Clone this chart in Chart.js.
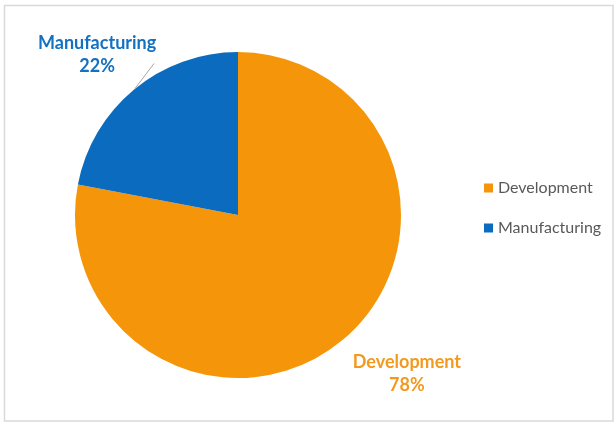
<!DOCTYPE html>
<html>
<head>
<meta charset="utf-8">
<script src="https://cdn.jsdelivr.net/npm/chart.js@4"></script>
<style>
  html, body { margin: 0; padding: 0; background: #ffffff; }
  #wrap { width: 614px; height: 423px; }
</style>
</head>
<body>
<div id="wrap"><canvas id="c" width="614" height="423"></canvas></div>
<script>
// Cost split by area
const categories = ['Development', 'Manufacturing'];
const shares = [78, 22];
const sliceColors = ['#F5960A', '#0B6CBF'];
const labelColors = ['#F39A1E', '#1470C0'];

const FONT = 'Lato, "Open Sans", sans-serif';

// Light frame around the whole chart
const framePlugin = {
  id: 'frame',
  beforeDraw(chart) {
    const ctx = chart.ctx;
    ctx.save();
    ctx.fillStyle = '#ffffff';
    ctx.fillRect(0, 0, chart.width, chart.height);
    ctx.strokeStyle = '#d9d9d9';
    ctx.lineWidth = 1.5;
    ctx.strokeRect(4.5, 5.5, 608.5, 415.5);
    ctx.restore();
  }
};

// Category name + percentage next to each slice, with a leader line
const sliceLabelPlugin = {
  id: 'sliceLabels',
  afterDatasetsDraw(chart) {
    const ctx = chart.ctx;
    const meta = chart.getDatasetMeta(0);
    const offsets = [
      { dx: 65, dy: 22, leader: false },
      { dx: -37, dy: -46, leader: true, lx: 20, ly: -26 }
    ];
    ctx.save();
    meta.data.forEach((arc, i) => {
      const p = arc.getProps(['x', 'y', 'startAngle', 'endAngle', 'outerRadius'], true);
      const mid = (p.startAngle + p.endAngle) / 2;
      const ex = p.x + Math.cos(mid) * p.outerRadius;
      const ey = p.y + Math.sin(mid) * p.outerRadius;
      const o = offsets[i];
      if (o.leader) {
        ctx.strokeStyle = '#a6a6a6';
        ctx.lineWidth = 1;
        ctx.beginPath();
        ctx.moveTo(ex + 1, ey - 1);
        ctx.lineTo(ex + o.lx, ey + o.ly);
        ctx.stroke();
      }
      ctx.fillStyle = labelColors[i];
      ctx.font = 'bold 18px ' + FONT;
      ctx.textAlign = 'center';
      ctx.textBaseline = 'middle';
      ctx.fillText(categories[i], ex + o.dx, ey + o.dy);
      ctx.fillText(shares[i] + '%', ex + o.dx, ey + o.dy + 23);
    });
    ctx.restore();
  }
};

// Legend on the right: square marker + category name
const legendPlugin = {
  id: 'sideLegend',
  afterDraw(chart) {
    const ctx = chart.ctx;
    const x = 484, y0 = 188, step = 40;
    ctx.save();
    chart.data.labels.forEach((lab, i) => {
      const y = y0 + i * step;
      ctx.fillStyle = chart.data.datasets[0].backgroundColor[i];
      ctx.fillRect(x, y - 4.5, 9, 9);
      ctx.fillStyle = '#595959';
      ctx.font = '16px ' + FONT;
      ctx.textAlign = 'left';
      ctx.textBaseline = 'middle';
      ctx.fillText(lab, x + 14, y);
    });
    ctx.restore();
  }
};

new Chart(document.getElementById('c'), {
  type: 'pie',
  data: {
    labels: categories,
    datasets: [{
      data: shares,
      backgroundColor: sliceColors,
      borderColor: '#ffffff',
      borderWidth: 0
    }]
  },
  options: {
    responsive: false,
    animation: false,
    layout: { padding: { left: 75, right: 213, top: 52, bottom: 45 } },
    plugins: {
      legend: { display: false },
      tooltip: { enabled: false }
    }
  },
  plugins: [framePlugin, sliceLabelPlugin, legendPlugin]
});
</script>
</body>
</html>
